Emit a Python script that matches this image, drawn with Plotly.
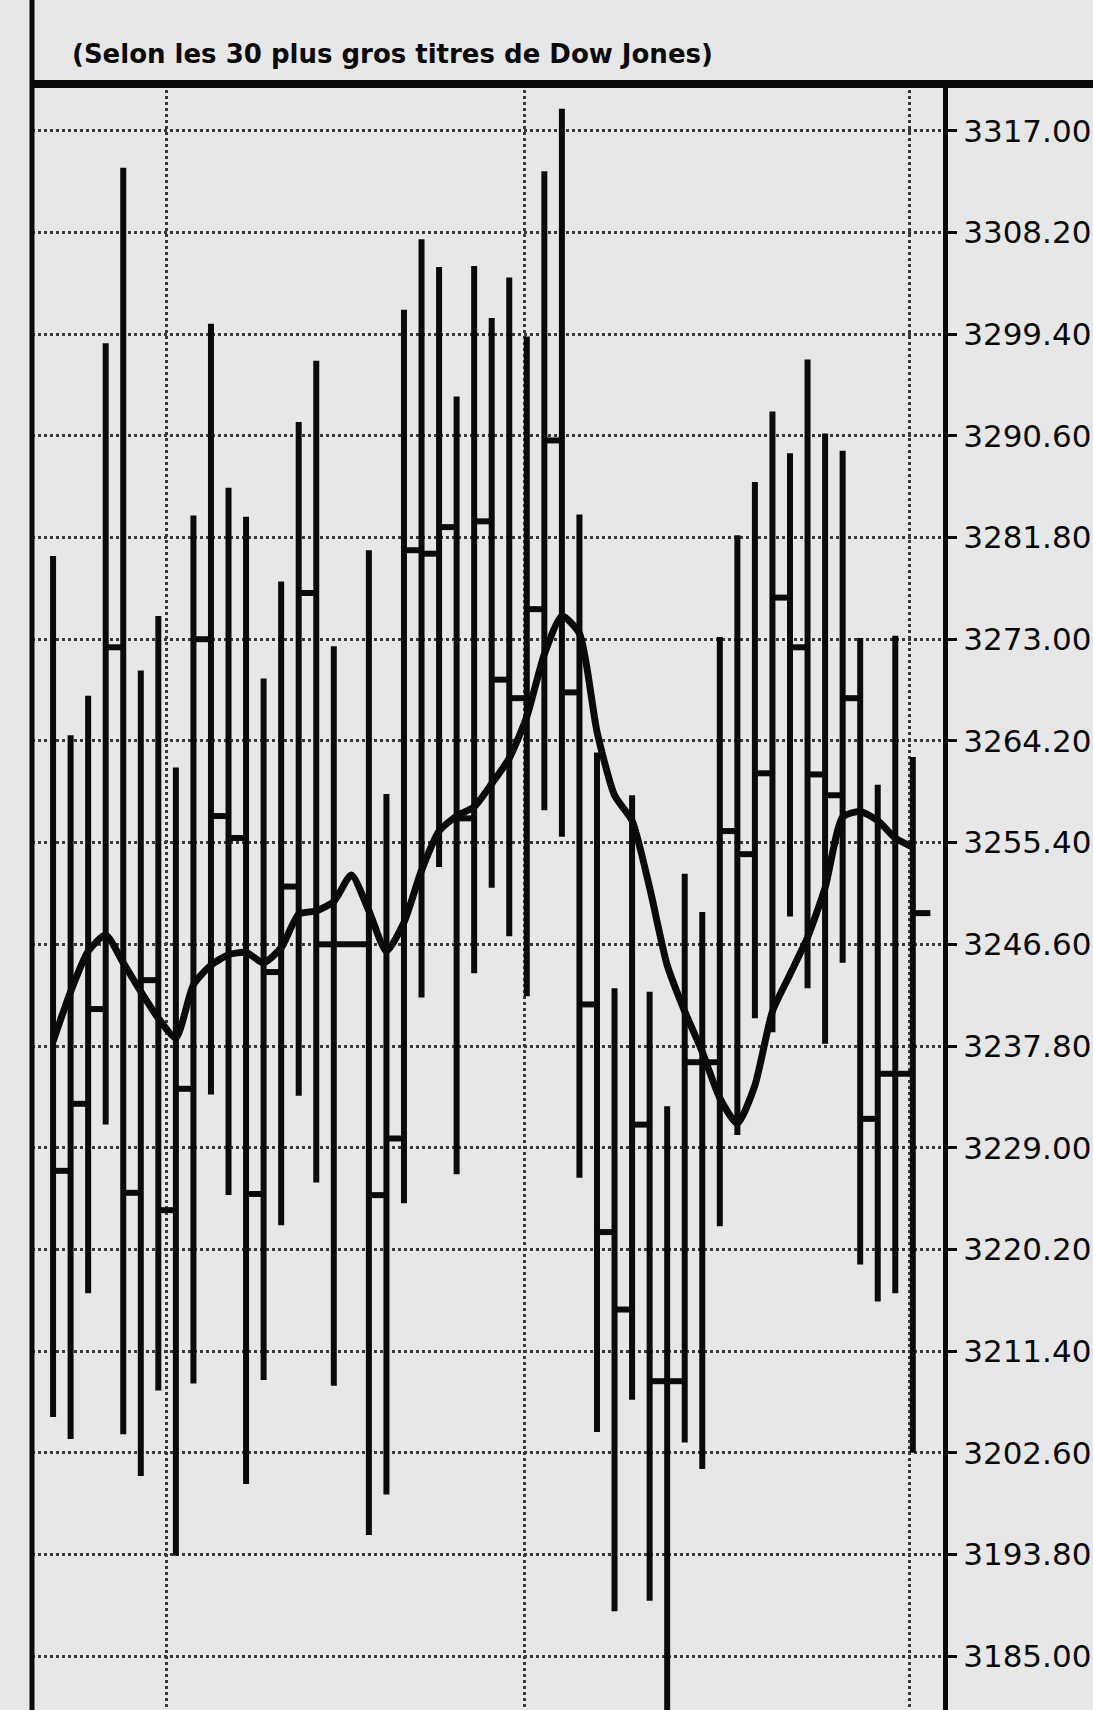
import plotly.graph_objects as go

# ---- data ----
# trading-day index (one missing day between 16 and 18)
day = [0, 1, 2, 3, 4, 5, 6, 7, 8, 9, 10, 11, 12, 13, 14, 15, 16,
       18, 19, 20, 21, 22, 23, 24, 25, 26, 27, 28, 29, 30, 31, 32, 33,
       34, 35, 36, 37, 38, 39, 40, 41, 42, 43, 44, 45, 46, 47, 48, 49]

high = [3280.2, 3264.7, 3268.1, 3298.6, 3313.8, 3270.3, 3275.0, 3261.9, 3283.7, 3300.3,
        3286.1, 3283.6, 3269.6, 3278.0, 3291.8, 3297.1, 3272.4,
        3280.7, 3259.6, 3301.5, 3307.6, 3305.2, 3294.0, 3305.3, 3300.8, 3304.3, 3299.2,
        3313.5, 3318.9, 3283.8, 3263.2, 3242.8, 3259.5, 3242.5, 3232.6, 3252.7, 3249.4,
        3273.2, 3282.0, 3286.6, 3292.7, 3289.1, 3297.2, 3290.8, 3289.3, 3273.1, 3260.4,
        3273.3, 3262.8]

low = [3205.7, 3203.8, 3216.4, 3231.0, 3204.2, 3200.6, 3208.0, 3193.7, 3208.6, 3233.6,
       3224.9, 3199.9, 3208.9, 3222.3, 3233.5, 3226.0, 3208.4,
       3195.5, 3199.0, 3224.2, 3242.0, 3253.3, 3226.7, 3244.1, 3251.5, 3247.3, 3242.1,
       3258.2, 3255.9, 3226.4, 3204.4, 3188.9, 3207.2, 3189.8, 3170.0, 3203.5, 3201.2,
       3222.2, 3230.1, 3240.2, 3239.0, 3249.0, 3242.8, 3238.0, 3245.0, 3218.9, 3215.7,
       3216.4, 3202.6]

close = [3227.0, 3232.8, 3241.0, 3272.3, 3225.1, 3243.5, 3223.6, 3234.1, 3273.0, 3257.7,
         3255.8, 3225.0, 3244.2, 3251.6, 3277.0, 3246.6, 3246.6,
         3224.9, 3229.8, 3280.7, 3280.4, 3282.7, 3257.5, 3283.2, 3269.5, 3267.9, 3275.6,
         3290.2, 3268.4, 3241.4, 3221.7, 3215.0, 3231.0, 3208.8, 3208.8, 3236.4, 3236.4,
         3256.4, 3254.4, 3261.4, 3276.6, 3272.3, 3261.3, 3259.5, 3267.9, 3231.5, 3235.4,
         3235.4, 3249.3]

# moving average line
ma_day = list(range(0, 50))
ma = [3238.2, 3242.5, 3246.0, 3247.4, 3245.0, 3242.5, 3240.2, 3238.5, 3243.1, 3244.8,
      3245.7, 3245.9, 3245.0, 3246.3, 3249.2, 3249.5, 3250.3, 3252.6, 3249.5, 3246.0,
      3248.5, 3253.0, 3256.4, 3257.7, 3258.5, 3260.5, 3262.7, 3266.3, 3271.7, 3275.0,
      3273.5, 3265.0, 3259.5, 3257.3, 3251.5, 3244.8, 3240.8, 3237.3, 3233.3, 3231.1,
      3234.4, 3240.8, 3244.0, 3247.2, 3251.5, 3257.6, 3258.1, 3257.3, 3255.8, 3255.0]

y_ticks = [3317.00, 3308.20, 3299.40, 3290.60, 3281.80, 3273.00, 3264.20, 3255.40,
           3246.60, 3237.80, 3229.00, 3220.20, 3211.40, 3202.60, 3193.80, 3185.00]
y_tick_text = ["%.2f" % v for v in y_ticks]

month_marks = [6.45, 26.85, 48.8]

subtitle = "(Selon les 30 plus gros titres de Dow Jones)"

# ---- build segments from the data ----
bx, by = [], []
for d, h, l in zip(day, high, low):
    bx += [d, d, None]
    by += [l, h, None]

tx, ty = [], []
for i, (d, c) in enumerate(zip(day, close)):
    nxt = day[i + 1] if i + 1 < len(day) else d + 1
    tx += [d, nxt, None]
    ty += [c, c, None]

BG = "#e7e7e7"
INK = "#0a0a0a"
GRID = "#3a3a3a"

fig = go.Figure()
fig.add_trace(go.Scatter(x=bx, y=by, mode="lines",
                         line=dict(color=INK, width=6), hoverinfo="skip",
                         showlegend=False))
fig.add_trace(go.Scatter(x=tx, y=ty, mode="lines",
                         line=dict(color=INK, width=6), hoverinfo="skip",
                         showlegend=False))
fig.add_trace(go.Scatter(x=ma_day, y=ma, mode="lines",
                         line=dict(color=INK, width=7, shape="spline", smoothing=0.6),
                         hoverinfo="skip", showlegend=False))

W, H = 1093, 1710
ML, MR, MT, MB = 32, 150, 84, 0
plot_w = W - ML - MR
plot_h = H - MT - MB

fig.update_layout(
    width=W, height=H,
    margin=dict(l=ML, r=MR, t=MT, b=MB, pad=0),
    paper_bgcolor=BG, plot_bgcolor=BG,
    showlegend=False,
    xaxis=dict(range=[-1.2, 50.72], tickvals=month_marks, showticklabels=False,
               ticks="", showgrid=True, gridcolor=GRID, gridwidth=2.5,
               griddash="2.5px,3.5px", zeroline=False, showline=False, fixedrange=True),
    yaxis=dict(side="right", range=[3180.35, 3321.04], tickvals=y_ticks,
               ticktext=y_tick_text, showgrid=True, gridcolor=GRID, gridwidth=2.5,
               griddash="2.5px,3.5px", zeroline=False, showline=True,
               linecolor=INK, linewidth=5, ticks="outside", ticklen=9,
               tickwidth=3, tickcolor=INK,
               tickfont=dict(family="DejaVu Sans", size=31, color=INK),
               fixedrange=True),
    shapes=[
        # thick rule at the top of the chart
        dict(type="line", xref="paper", yref="paper",
             x0=-1.0 / plot_w, x1=(W - ML) / plot_w, y0=1.0, y1=1.0,
             line=dict(color=INK, width=8)),
        # left frame line running the full height
        dict(type="line", xref="paper", yref="paper",
             x0=0, x1=0, y0=0, y1=(H - MB) / plot_h,
             line=dict(color=INK, width=5)),
    ],
    annotations=[
        dict(text="<b>" + subtitle + "</b>", xref="paper", yref="paper",
             x=(70 - ML) / plot_w, y=1 + (84 - 54) / plot_h,
             xanchor="left", yanchor="middle", showarrow=False,
             font=dict(family="DejaVu Sans", size=26, color=INK)),
    ],
)

fig.write_html("out.html",
               config={"displayModeBar": False},
               post_script="document.body.style.margin='0px';"
                           "document.body.style.background='" + BG + "';")
